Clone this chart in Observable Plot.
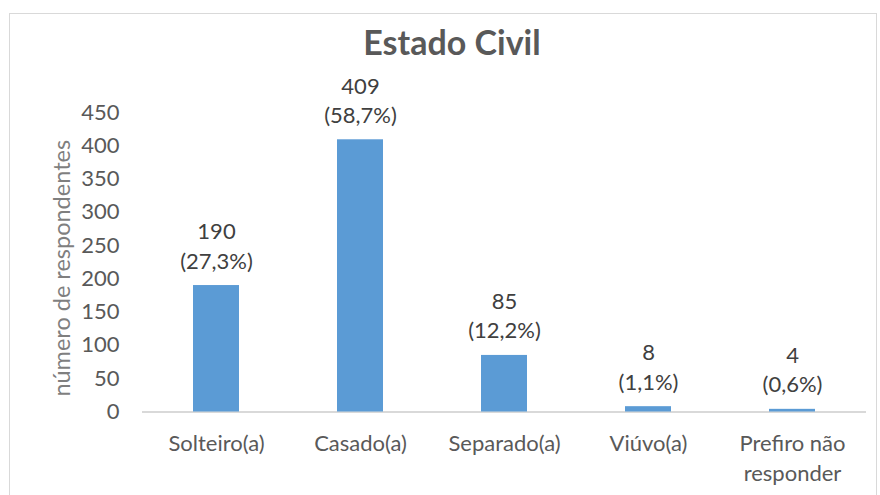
<!DOCTYPE html>
<html>
<head>
<meta charset="utf-8">
<script src="https://cdn.jsdelivr.net/npm/d3@7"></script>
<script src="https://cdn.jsdelivr.net/npm/@observablehq/plot@0.6"></script>
<style>
  body { margin: 0; background: #fff; }
  #wrap { position: relative; width: 880px; height: 495px; overflow: hidden; }
  #border { position: absolute; left: 9px; top: 13px; width: 868px; height: 500px; border: 1px solid #d9d9d9; box-sizing: border-box; }
  #title { position: absolute; left: 0; width: 880px; top: 21px; text-align: center; font-family: Lato, sans-serif; font-weight: bold; font-size: 34px; color: #595959; padding-left: 24px; box-sizing: border-box; }
  #chart { position: absolute; left: 0; top: 0; }
</style>
</head>
<body>
<div id="wrap">
  <div id="border"></div>
  <div id="chart"></div>
  <div id="title">Estado Civil</div>
</div>
<script>
const categories = ["Solteiro(a)", "Casado(a)", "Separado(a)", "Viúvo(a)", "Prefiro não responder"];
const tickLabels = ["Solteiro(a)", "Casado(a)", "Separado(a)", "Viúvo(a)", "Prefiro não\nresponder"];
const values = [190, 409, 85, 8, 4];
const percents = ["27,3%", "58,7%", "12,2%", "1,1%", "0,6%"];
const yTicks = [0, 50, 100, 150, 200, 250, 300, 350, 400, 450];

const data = categories.map((c, i) => ({cat: c, value: values[i], label: `${values[i]}\n(${percents[i]})`}));
const tickMap = new Map(categories.map((c, i) => [c, tickLabels[i]]));

const chart = Plot.plot({
  width: 880,
  height: 495,
  marginLeft: 142,
  marginRight: 14,
  marginTop: 112,
  marginBottom: 83.5,
  style: {fontFamily: "Lato, sans-serif", fontSize: "22px", color: "#595959", background: "transparent"},
  x: {domain: categories, paddingInner: 0.683, paddingOuter: 0.3415, label: null},
  y: {domain: [0, 450], label: null},
  marks: [
    Plot.ruleY([0], {stroke: "#d9d9d9", strokeWidth: 2}),
    Plot.barY(data, {x: "cat", y: "value", fill: "#5b9bd5"}),
    Plot.text(data, {x: "cat", y: "value", text: "label", lineAnchor: "bottom", dy: -17, fill: "#404040", fontSize: 22, lineHeight: 1.33}),
    Plot.axisY({ticks: yTicks, tickSize: 0, tickPadding: 23, fill: "#595959", fontSize: 22, label: null}),
    Plot.axisX({tickSize: 0, tickPadding: 18, fill: "#595959", fontSize: 22, tickFormat: d => tickMap.get(d), lineHeight: 1.36, label: null}),
    Plot.text(["número de respondentes"], {frameAnchor: "left", dx: -80, dy: 6, rotate: -90, textAnchor: "middle", fill: "#7f7f7f", fontSize: 23.5})
  ]
});
document.getElementById("chart").appendChild(chart);
</script>
</body>
</html>
